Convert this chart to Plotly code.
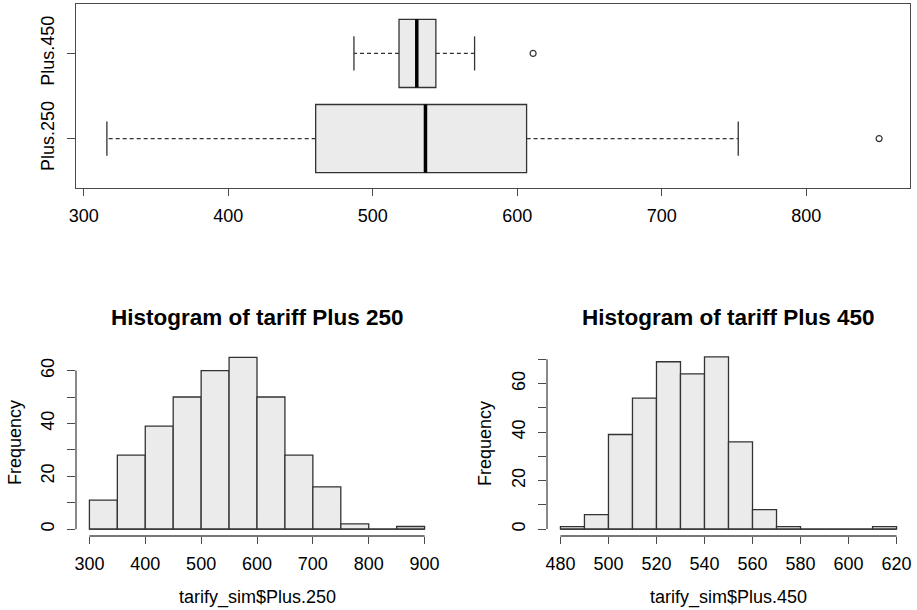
import plotly.graph_objects as go

W, H = 917, 610
FONT = "Liberation Sans, Arial, Helvetica, sans-serif"
LINE = "#333333"
AXC = "#4a4a4a"
FILL = "#EBEBEB"

# ---------------- Boxplot data ----------------
box_groups = ["Plus.250", "Plus.450"]
box_positions = [1, 2]
box_lower_whisker = [316, 487]
box_q1 = [460.5, 518.2]
box_median = [536.5, 530.5]
box_q3 = [606.5, 543.7]
box_upper_whisker = [753, 570.5]
box_outliers = [[850.5], [611]]
top_xticks = [300, 400, 500, 600, 700, 800]

# ---------------- Histogram Plus 250 ----------------
h250_bin_left = [300, 350, 400, 450, 500, 550, 600, 650, 700, 750, 800, 850]
h250_bin_width = 50
h250_counts = [11, 28, 39, 50, 60, 65, 50, 28, 16, 2, 0, 1]
h250_xticks = [300, 400, 500, 600, 700, 800, 900]
h250_yticks = [0, 10, 20, 30, 40, 50, 60]
h250_ytick_labels = ["0", "", "20", "", "40", "", "60"]

# ---------------- Histogram Plus 450 ----------------
h450_bin_left = [480, 490, 500, 510, 520, 530, 540, 550, 560, 570, 580, 590, 600, 610]
h450_bin_width = 10
h450_counts = [1, 6, 39, 54, 69, 64, 71, 36, 8, 1, 0, 0, 0, 1]
h450_xticks = [480, 500, 520, 540, 560, 580, 600, 620]
h450_yticks = [0, 10, 20, 30, 40, 50, 60, 70]
h450_ytick_labels = ["0", "", "20", "", "40", "", "60", ""]


def ext(lo, hi, f=0.04):
    d = (hi - lo) * f
    return [lo - d, hi + d]


fig = go.Figure()

# Box bodies (no library whiskers; R-style whiskers drawn below)
fig.add_trace(go.Box(
    y=box_positions, q1=box_q1, median=box_median, q3=box_q3,
    lowerfence=box_q1, upperfence=box_q3, orientation="h", width=0.8,
    fillcolor=FILL, line=dict(color=LINE, width=1.3), boxpoints=False,
    whiskerwidth=0, xaxis="x", yaxis="y", hoverinfo="skip",
))

half_box = 0.4
half_staple = 0.2
wx, wy, sx, sy, mx, my = [], [], [], [], [], []
for p, lw, q1, md, q3, uw in zip(box_positions, box_lower_whisker, box_q1,
                                  box_median, box_q3, box_upper_whisker):
    wx += [q1, lw, None, q3, uw, None]
    wy += [p, p, None, p, p, None]
    sx += [lw, lw, None, uw, uw, None]
    sy += [p - half_staple, p + half_staple, None, p - half_staple, p + half_staple, None]
    mx += [md, md, None]
    my += [p - half_box, p + half_box, None]

fig.add_trace(go.Scatter(x=wx, y=wy, mode="lines", xaxis="x", yaxis="y",
                         line=dict(color=LINE, width=1.4, dash="4px,3px"), hoverinfo="skip"))
fig.add_trace(go.Scatter(x=sx, y=sy, mode="lines", xaxis="x", yaxis="y",
                         line=dict(color=LINE, width=1.3), hoverinfo="skip"))
fig.add_trace(go.Scatter(x=mx, y=my, mode="lines", xaxis="x", yaxis="y",
                         line=dict(color="black", width=3.5), hoverinfo="skip"))
ox, oy = [], []
for p, outs in zip(box_positions, box_outliers):
    for o in outs:
        ox.append(o)
        oy.append(p)
fig.add_trace(go.Scatter(x=ox, y=oy, mode="markers", xaxis="x", yaxis="y",
                         marker=dict(symbol="circle-open", size=6, color=LINE,
                                     line=dict(width=1.2, color=LINE)), hoverinfo="skip"))

# Histograms
fig.add_trace(go.Bar(
    x=[b + h250_bin_width / 2 for b in h250_bin_left], y=h250_counts, width=h250_bin_width,
    marker=dict(color=FILL, line=dict(color=LINE, width=1.3)), xaxis="x2", yaxis="y2",
    hoverinfo="skip"))
fig.add_trace(go.Bar(
    x=[b + h450_bin_width / 2 for b in h450_bin_left], y=h450_counts, width=h450_bin_width,
    marker=dict(color=FILL, line=dict(color=LINE, width=1.3)), xaxis="x3", yaxis="y3",
    hoverinfo="skip"))

all_box = box_lower_whisker + box_upper_whisker + [o for g in box_outliers for o in g]

tickfont = dict(family=FONT, size=18, color="black")
common = dict(showgrid=False, zeroline=False, ticks="outside", tickcolor=AXC,
              tickwidth=1.2, tickfont=tickfont, fixedrange=True, automargin=False)


def px_x(a, b):
    return [a / W, b / W]


def px_y(top, bottom):
    return [1 - bottom / H, 1 - top / H]


fig.update_layout(
    width=W, height=H, margin=dict(l=0, r=0, t=0, b=0, autoexpand=False),
    paper_bgcolor="white", plot_bgcolor="white", showlegend=False,
    font=dict(family=FONT, color="black"),
    xaxis=dict(domain=px_x(76, 910), range=ext(min(all_box), max(all_box)),
               tickvals=top_xticks, anchor="y", ticklen=7, ticklabelstandoff=4,
               showline=True, mirror=True, linecolor=AXC, linewidth=1.3, **common),
    yaxis=dict(domain=px_y(4, 188), range=[0.5 - 0.08, 2.5 + 0.08],
               tickvals=box_positions, ticktext=box_groups, tickangle=-90, anchor="x",
               ticklen=8, ticklabelstandoff=6,
               showline=True, mirror=True, linecolor=AXC, linewidth=1.3, **common),
    xaxis2=dict(domain=px_x(76, 438), range=ext(h250_xticks[0], h250_xticks[-1]),
                tickvals=h250_xticks, anchor="y2", ticklen=7, ticklabelstandoff=4,
                showline=False, **common),
    yaxis2=dict(domain=px_y(350.5, 536), range=ext(0, max(h250_counts)),
                tickvals=h250_yticks, ticktext=h250_ytick_labels, tickangle=-90,
                anchor="x2", ticklen=8, ticklabelstandoff=6, showline=False, **common),
    xaxis3=dict(domain=px_x(547, 910), range=ext(h450_xticks[0], h450_xticks[-1]),
                tickvals=h450_xticks, anchor="y3", ticklen=7, ticklabelstandoff=4,
                showline=False, **common),
    yaxis3=dict(domain=px_y(350, 536), range=ext(0, max(h450_counts)),
                tickvals=h450_yticks, ticktext=h450_ytick_labels, tickangle=-90,
                anchor="x3", ticklen=8, ticklabelstandoff=6, showline=False, **common),
)

# R-style axis lines spanning first..last tick
shp = dict(type="line", line=dict(color=AXC, width=1.3))
fig.add_shape(xref="x2", yref="y2 domain", x0=h250_xticks[0], x1=h250_xticks[-1], y0=0, y1=0, **shp)
fig.add_shape(xref="x2 domain", yref="y2", x0=0, x1=0, y0=h250_yticks[0], y1=h250_yticks[-1], **shp)
fig.add_shape(xref="x3", yref="y3 domain", x0=h450_xticks[0], x1=h450_xticks[-1], y0=0, y1=0, **shp)
fig.add_shape(xref="x3 domain", yref="y3", x0=0, x1=0, y0=h450_yticks[0], y1=h450_yticks[-1], **shp)
# bar bottoms (R outlines every bin, including empty ones)
bshp = dict(type="line", line=dict(color=LINE, width=1.3))
fig.add_shape(xref="x2", yref="y2", x0=h250_bin_left[0], x1=h250_bin_left[-1] + h250_bin_width,
              y0=0, y1=0, **bshp)
fig.add_shape(xref="x3", yref="y3", x0=h450_bin_left[0], x1=h450_bin_left[-1] + h450_bin_width,
              y0=0, y1=0, **bshp)

# Titles and axis labels
ann = []
ann.append(dict(text="<b>Histogram of tariff Plus 250</b>", x=257 / W, y=1 - 317 / H,
                font=dict(size=22.5, family=FONT, color="black")))
ann.append(dict(text="<b>Histogram of tariff Plus 450</b>", x=728.5 / W, y=1 - 317 / H,
                font=dict(size=22.5, family=FONT, color="black")))
ann.append(dict(text="tarify_sim$Plus.250", x=257 / W, y=1 - 597 / H,
                font=dict(size=18, family=FONT, color="black")))
ann.append(dict(text="tarify_sim$Plus.450", x=728.5 / W, y=1 - 597 / H,
                font=dict(size=18, family=FONT, color="black")))
ann.append(dict(text="Frequency", x=15 / W, y=1 - 443 / H, textangle=-90,
                font=dict(size=18, family=FONT, color="black")))
ann.append(dict(text="Frequency", x=485 / W, y=1 - 443 / H, textangle=-90,
                font=dict(size=18, family=FONT, color="black")))
for a in ann:
    a.update(xref="paper", yref="paper", showarrow=False, xanchor="center", yanchor="middle")
fig.update_layout(annotations=ann)

fig.write_html("out.html", config={"displayModeBar": False},
               post_script="document.body.style.margin='0px';document.body.style.overflow='hidden';")
